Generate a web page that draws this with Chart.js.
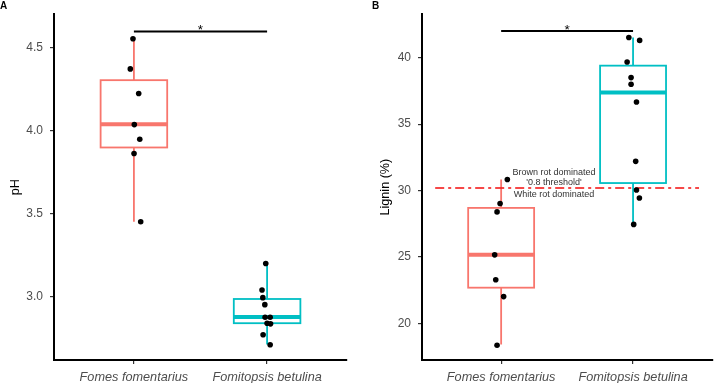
<!DOCTYPE html>
<html>
<head>
<meta charset="utf-8">
<script src="https://cdn.jsdelivr.net/npm/chart.js@4.4.0/dist/chart.umd.min.js"></script>
<style>
  body { margin: 0; background: #fff; }
  #wrap { position: relative; width: 715px; height: 383px; }
  #phChart { position: absolute; left: 0; top: 0; }
  #ligninChart { position: absolute; left: 357px; top: 0; }
</style>
</head>
<body>
<div id="wrap">
  <canvas id="phChart" width="357" height="383"></canvas>
  <canvas id="ligninChart" width="358" height="383"></canvas>
</div>
<script>
var species = ['Fomes fomentarius', 'Fomitopsis betulina'];
var boxColors = ['#F8766D', '#00BFC4'];

// panel A - pH
var phFomes = [4.556, 4.374, 4.226, 4.038, 3.950, 3.864, 3.452];
var phFomesJitter = [-0.007, -0.027, 0.036, 0.003, 0.044, 0.001, 0.051];
var phFomitopsis = [3.200, 3.040, 2.994, 2.952, 2.876, 2.876, 2.840, 2.836, 2.770, 2.710];
var phFomitopsisJitter = [-0.010, -0.038, -0.032, -0.017, -0.015, 0.023, 0.000, 0.026, -0.030, 0.023];
var phLow = [3.452, 2.712];
var phQ1 = [3.900, 2.840];
var phMedian = [4.040, 2.878];
var phQ3 = [4.306, 2.986];
var phHigh = [4.556, 3.200];
var phTicks = [3.0, 3.5, 4.0, 4.5];
var phRange = [2.618, 4.704];
var phSigY = 4.60;

// panel B - lignin
var ligninFomes = [30.84, 29.03, 28.40, 25.17, 23.30, 22.03, 18.37];
var ligninFomesJitter = [0.047, -0.008, -0.031, -0.049, -0.041, 0.019, -0.031];
var ligninFomitopsis = [41.52, 41.30, 39.68, 38.50, 38.00, 36.67, 32.20, 30.05, 29.45, 27.46];
var ligninFomitopsisJitter = [-0.032, 0.050, -0.045, -0.015, -0.015, 0.026, 0.020, 0.026, 0.048, 0.005];
var ligninLow = [18.43, 27.46];
var ligninQ1 = [22.70, 30.57];
var ligninMedian = [25.17, 37.38];
var ligninQ3 = [28.70, 39.40];
var ligninHigh = [30.84, 41.52];
var ligninTicks = [20, 25, 30, 35, 40];
var ligninRange = [17.26, 43.27];
var ligninSigY = 42.0;

var thresholdY = 30.2;
var thresholdSpan = [0.5, 2.5];
var thresholdLabels = ['Brown rot dominated', "'0.8 threshold'", 'White rot dominated'];
var thresholdLabelY = [31.38, 30.58, 29.69];
var thresholdLabelX = 1.4;

var FONT = "'Liberation Sans', Arial, sans-serif";
var boxHalf = 0.25;

function toPoints(values, jitter, cat) {
    return values.map(function (v, i) { return { x: cat + jitter[i], y: v }; });
}

function boxesPlugin(stats) {
    return {
        id: 'boxes',
        beforeDatasetsDraw: function (chart) {
            var ctx = chart.ctx, xs = chart.scales.x, ys = chart.scales.y;
            ctx.save();
            stats.median.forEach(function (m, i) {
                var cat = i + 1;
                var cx = xs.getPixelForValue(cat);
                var l = xs.getPixelForValue(cat - boxHalf);
                var r = xs.getPixelForValue(cat + boxHalf);
                var top = ys.getPixelForValue(stats.q3[i]);
                var bot = ys.getPixelForValue(stats.q1[i]);
                ctx.strokeStyle = boxColors[i];
                ctx.lineWidth = 1.8;
                ctx.beginPath();
                ctx.moveTo(cx, ys.getPixelForValue(stats.high[i]));
                ctx.lineTo(cx, top);
                ctx.moveTo(cx, bot);
                ctx.lineTo(cx, ys.getPixelForValue(stats.low[i]));
                ctx.stroke();
                ctx.fillStyle = '#fff';
                ctx.fillRect(l, top, r - l, bot - top);
                ctx.strokeRect(l, top, r - l, bot - top);
                ctx.lineWidth = 4;
                ctx.beginPath();
                var my = ys.getPixelForValue(m);
                ctx.moveTo(l, my);
                ctx.lineTo(r, my);
                ctx.stroke();
            });

            // significance bar
            var sy = ys.getPixelForValue(stats.sigY);
            ctx.strokeStyle = '#000';
            ctx.lineWidth = 2;
            ctx.beginPath();
            ctx.moveTo(xs.getPixelForValue(1), sy);
            ctx.lineTo(xs.getPixelForValue(2), sy);
            ctx.stroke();
            ctx.fillStyle = '#000';
            ctx.font = '13.5px ' + FONT;
            ctx.textAlign = 'center';
            ctx.textBaseline = 'alphabetic';
            ctx.fillText('*', xs.getPixelForValue(1.5), sy + 2.5);

            if (stats.threshold) {
                var ty = ys.getPixelForValue(thresholdY);
                ctx.strokeStyle = 'rgba(245,40,40,0.85)';
                ctx.lineWidth = 2;
                ctx.setLineDash([9, 4, 3, 4]);
                ctx.beginPath();
                ctx.moveTo(xs.getPixelForValue(thresholdSpan[0]), ty);
                ctx.lineTo(xs.getPixelForValue(thresholdSpan[1]), ty);
                ctx.stroke();
                ctx.setLineDash([]);
                ctx.fillStyle = '#333';
                ctx.font = '9px ' + FONT;
                ctx.textBaseline = 'middle';
                thresholdLabels.forEach(function (t, i) {
                    ctx.fillText(t, xs.getPixelForValue(thresholdLabelX), ys.getPixelForValue(thresholdLabelY[i]));
                });
            }

            // panel letter
            ctx.fillStyle = '#000';
            ctx.font = 'bold 10px ' + FONT;
            ctx.textAlign = 'left';
            ctx.textBaseline = 'alphabetic';
            ctx.fillText(stats.letter, stats.letterX, 9);
            ctx.restore();
        }
    };
}

function makePanel(canvasId, cfg) {
    return new Chart(document.getElementById(canvasId), {
        type: 'scatter',
        data: {
            datasets: [
                { data: toPoints(cfg.a, cfg.aj, 1) },
                { data: toPoints(cfg.b, cfg.bj, 2) }
            ]
        },
        options: {
            responsive: false,
            animation: false,
            events: [],
            layout: { padding: cfg.padding },
            elements: {
                point: { radius: 2.8, borderWidth: 0, backgroundColor: '#000', hoverRadius: 2.8 }
            },
            plugins: { legend: { display: false }, tooltip: { enabled: false } },
            scales: {
                x: {
                    type: 'linear',
                    min: 0.4,
                    max: 2.6,
                    afterBuildTicks: function (axis) {
                        axis.ticks = [{ value: 1 }, { value: 2 }];
                    },
                    afterFit: function (axis) { axis.height = 23; },
                    border: { color: '#000', width: 2 },
                    grid: { drawOnChartArea: false, drawTicks: true, tickLength: 4, color: '#333', lineWidth: 1.2 },
                    ticks: {
                        padding: 6,
                        color: '#4D4D4D',
                        maxRotation: 0,
                        font: { family: FONT, size: 12.7, style: 'italic' },
                        callback: function (v) { return species[v - 1]; }
                    }
                },
                y: {
                    min: cfg.range[0],
                    max: cfg.range[1],
                    afterBuildTicks: function (axis) {
                        axis.ticks = cfg.ticks.map(function (v) { return { value: v }; });
                    },
                    afterFit: function (axis) { axis.width = cfg.yWidth; },
                    border: { color: '#000', width: 2 },
                    grid: { drawOnChartArea: false, drawTicks: true, tickLength: 4, color: '#333', lineWidth: 1.2 },
                    ticks: {
                        padding: 7,
                        color: '#4D4D4D',
                        font: { family: FONT, size: 12 },
                        callback: cfg.fmt
                    },
                    title: {
                        display: true,
                        text: cfg.title,
                        color: '#000',
                        padding: { top: 7.5, bottom: 0 },
                        font: { family: FONT, size: 12.6 }
                    }
                }
            }
        },
        plugins: [boxesPlugin(cfg.stats)]
    });
}

makePanel('phChart', {
    a: phFomes, aj: phFomesJitter, b: phFomitopsis, bj: phFomitopsisJitter,
    range: phRange, ticks: phTicks, title: 'pH', yWidth: 54,
    padding: { left: 0, top: 12, right: 10, bottom: 0 },
    fmt: function (v) { return v.toFixed(1); },
    stats: { low: phLow, q1: phQ1, median: phMedian, q3: phQ3, high: phHigh,
             sigY: phSigY, threshold: false, letter: 'A', letterX: 0 }
});

makePanel('ligninChart', {
    a: ligninFomes, aj: ligninFomesJitter, b: ligninFomitopsis, bj: ligninFomitopsisJitter,
    range: ligninRange, ticks: ligninTicks, title: 'Lignin (%)', yWidth: 52,
    padding: { left: 13, top: 12, right: 1, bottom: 0 },
    fmt: function (v) { return String(v); },
    stats: { low: ligninLow, q1: ligninQ1, median: ligninMedian, q3: ligninQ3, high: ligninHigh,
             sigY: ligninSigY, threshold: true, letter: 'B', letterX: 15 }
});
</script>
</body>
</html>
